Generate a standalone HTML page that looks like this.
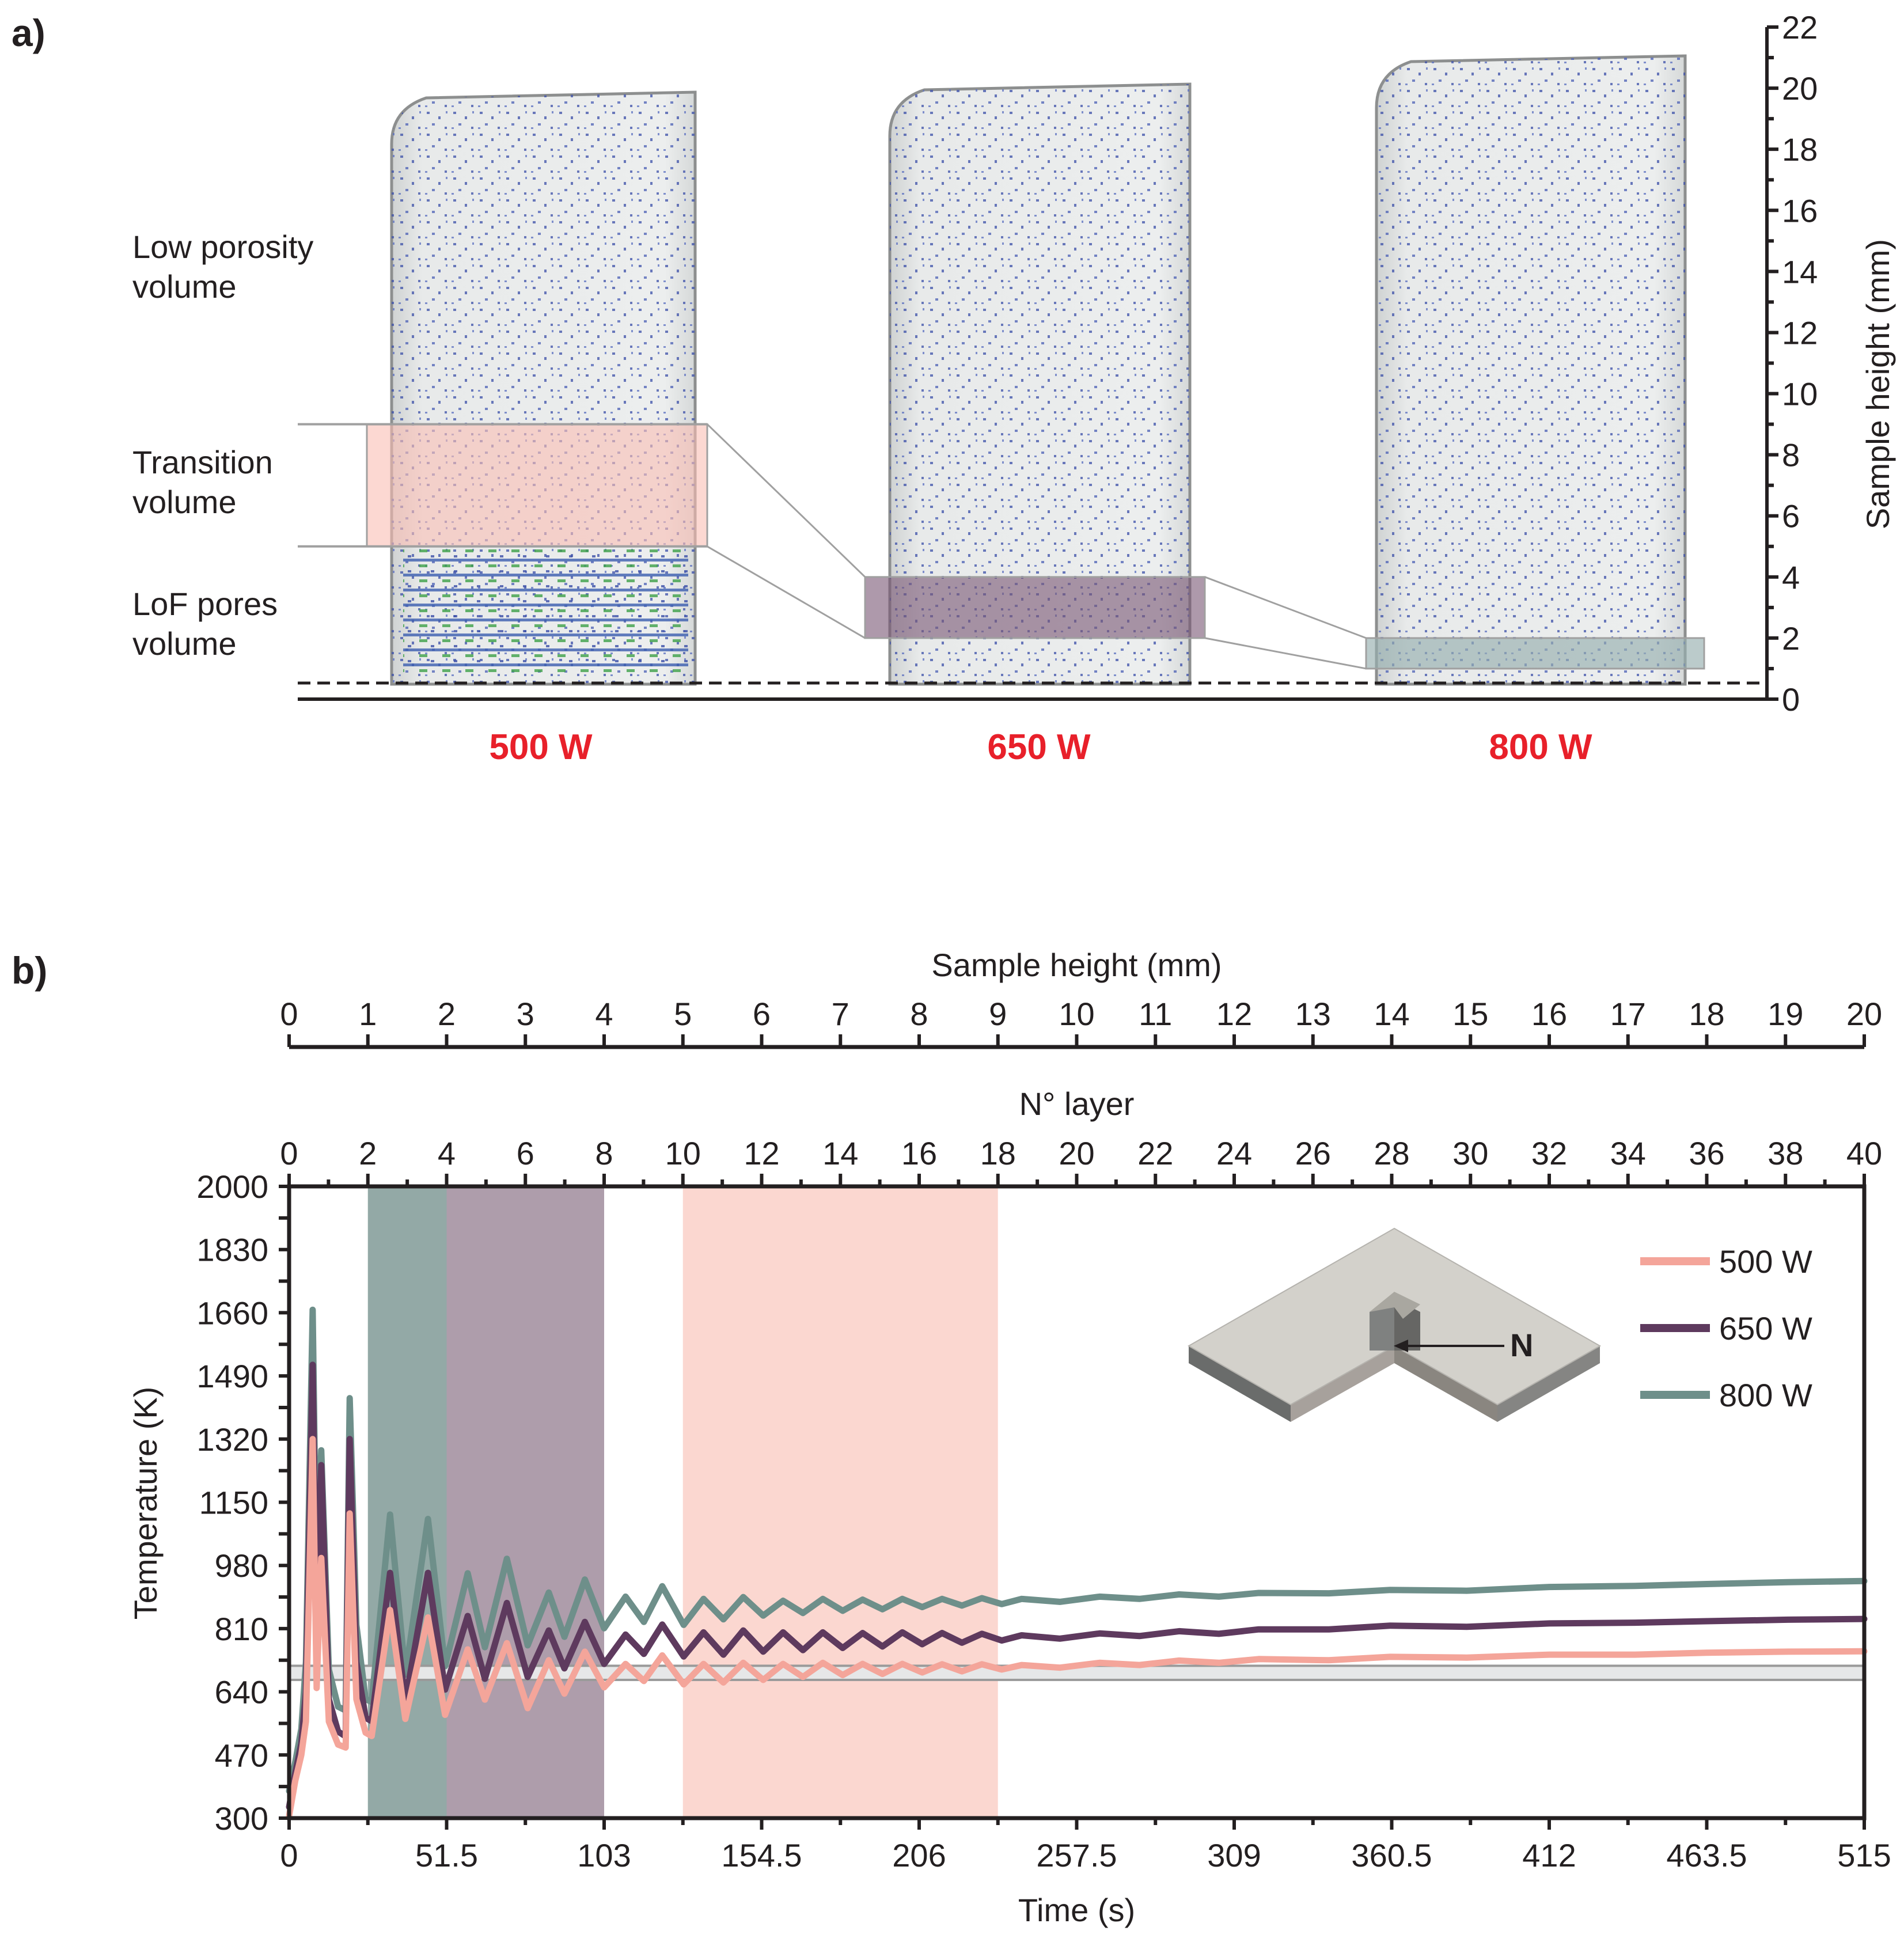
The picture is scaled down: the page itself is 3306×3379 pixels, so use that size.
<!DOCTYPE html>
<html><head><meta charset="utf-8"><style>
html,body{margin:0;padding:0;background:#fff}
svg{display:block}
text{font-family:"Liberation Sans Narrow","Liberation Sans",sans-serif;fill:#231f20}
</style></head><body>
<svg id="fig" width="3306" height="3379" viewBox="0 0 3306 3379" xmlns="http://www.w3.org/2000/svg">
<defs>
<pattern id="pores" width="46" height="38" patternUnits="userSpaceOnUse">
<rect x="5" y="4" width="5" height="4" fill="#3b4fa8"/><rect x="25" y="12" width="4" height="5" fill="#3b4fa8"/><rect x="14" y="24" width="5" height="4" fill="#4a5fb5"/><rect x="36" y="30" width="4" height="4" fill="#3b4fa8"/><rect x="38" y="3" width="3" height="4" fill="#5a6fc0"/><rect x="2" y="31" width="4" height="3" fill="#5a6fc0"/>
</pattern>
<pattern id="lof" width="40" height="26" patternUnits="userSpaceOnUse">
<rect x="0" y="8" width="40" height="5" fill="#3d5fb0"/><rect x="8" y="18" width="14" height="5" fill="#3fa14a"/><rect x="28" y="2" width="6" height="4" fill="#3b4fa8"/>
</pattern>
<linearGradient id="body" x1="0" x2="1"><stop offset="0" stop-color="#cfd2d2"/><stop offset="0.1" stop-color="#e8eaea"/><stop offset="0.9" stop-color="#eceeee"/><stop offset="1" stop-color="#d5d8d8"/></linearGradient>
</defs>

<!-- PART A -->
<text x="20" y="80" font-size="66" font-weight="bold" font-family="Liberation Sans">a)</text>
<g id="samples"></g>
<g id="aaxis"></g>
<g font-size="56">
<text x="230" y="448">Low porosity</text>
<text x="230" y="517">volume</text>
<text x="230" y="822">Transition</text>
<text x="230" y="891">volume</text>
<text x="230" y="1068">LoF pores</text>
<text x="230" y="1137">volume</text>
</g>
<g font-size="62" font-weight="bold" text-anchor="middle">
<text x="939" y="1318" style="fill:#e8202a">500 W</text>
<text x="1804" y="1318" style="fill:#e8202a">650 W</text>
<text x="2675" y="1318" style="fill:#e8202a">800 W</text>
</g>

<!-- PART B -->
<text x="20" y="1708" font-size="66" font-weight="bold" font-family="Liberation Sans">b)</text>
<g id="plot"></g>
</svg>
<script>
// ---------- chart data ----------
const times = [0,2,4,5.5,7.7,9,10.5,13,16,18.5,19.8,22,25,27,33,38,45.4,51,58.4,64,71.2,78,84.9,90,96.7,103,110,116,122,129,135.5,142,148.5,155,161.5,168,174.5,181,187.5,194,200.5,207,213.5,220,226.5,233,239.5,252,265,278,291,304,317,340,360,385,412,440,463.5,490,515];
const temp500 = [306,400,470,560,1320,650,1000,560,498,490,1120,620,530,521,860,567,840,578,754,619,771,596,725,635,748,652,715,669,738,660,715,665,718,672,715,680,718,685,715,688,715,692,714,695,714,700,712,705,718,712,724,718,728,725,734,732,740,740,745,748,749];
const temp650 = [330,420,500,640,1520,780,1250,620,533,520,1320,720,570,561,960,613,960,646,844,675,879,680,805,703,828,715,794,742,821,735,800,740,805,748,800,752,800,758,798,762,800,768,798,772,796,778,792,783,797,790,803,796,808,808,818,815,824,826,830,834,836];
const temp800 = [373,450,540,720,1668,900,1290,700,600,590,1430,820,620,613,1117,686,1105,709,959,760,998,765,907,788,942,811,896,828,924,820,890,835,895,845,885,852,890,858,888,862,890,868,890,872,892,876,890,882,896,890,902,896,906,905,914,912,922,925,930,935,938];
const tempTicks = [300,470,640,810,980,1150,1320,1490,1660,1830,2000];
const timeTicks = ["0","51.5","103","154.5","206","257.5","309","360.5","412","463.5","515"];
const layerTicks = [0,2,4,6,8,10,12,14,16,18,20,22,24,26,28,30,32,34,36,38,40];
const heightTicks = [0,1,2,3,4,5,6,7,8,9,10,11,12,13,14,15,16,17,18,19,20];
const bandLayers = [[2,4,"#93a9a6","band-800w"],[4,8,"#ae9dab","band-650w"],[10,18,"#fbd7d0","band-500w"]];
const grayBand = [672,710];
const aHeightTicks = [0,2,4,6,8,10,12,14,16,18,20,22];
const aBoxes = [[5,9],[2,4],[1,2]];

const NS="http://www.w3.org/2000/svg";
function mk(tag,attrs,parent){const e=document.createElementNS(NS,tag);for(const k in attrs)e.setAttribute(k,attrs[k]);parent.appendChild(e);return e;}

// ---------- part B ----------
const L=502,R=3237,T=2060,B=3157;
const xT=t=>L+(t/515)*(R-L);
const xL=n=>L+(n/40)*(R-L);
const xH=h=>L+(h/20)*(R-L);
const yK=v=>B-(v-300)/1700*(B-T);
const plot=document.getElementById('plot');

bandLayers.forEach(b=>{
  const r=mk('rect',{x:xL(b[0]),y:T,width:xL(b[1])-xL(b[0]),height:B-T,fill:b[2]},plot);
  
  
});
const gb=mk('rect',{x:L,y:yK(grayBand[1]),width:R-L,height:yK(grayBand[0])-yK(grayBand[1]),fill:"#e6e7e8",stroke:"#9a9a9a","stroke-width":4},plot);



// inset
const ins=mk('g',{},plot);


const th=30;
mk('polygon',{points:`2064,2337 2241,2439 2241,${2439+th} 2064,${2337+th}`,fill:"#6a6c6b"},ins);
mk('polygon',{points:`2241,2439 2421,2337 2421,${2337+th} 2241,${2439+th}`,fill:"#a7a19c"},ins);
mk('polygon',{points:`2421,2337 2600,2439 2600,${2439+th} 2421,${2337+th}`,fill:"#8a8680"},ins);
mk('polygon',{points:`2600,2439 2778,2337 2778,${2337+th} 2600,${2439+th}`,fill:"#858583"},ins);
mk('polygon',{points:"2421,2133 2778,2337 2600,2439 2421,2337 2241,2439 2064,2337",fill:"#d3d1cb",stroke:"#b5b3ae","stroke-width":2},ins);
mk('polygon',{points:"2378,2278 2421,2255 2421,2345 2378,2345",fill:"#7f8180"},ins);
mk('polygon',{points:"2421,2255 2466,2278 2466,2345 2421,2345",fill:"#666664"},ins);
mk('polygon',{points:"2378,2278 2421,2243 2466,2265 2436,2290 2421,2270",fill:"#a9a7a0"},ins);
mk('line',{x1:2612,y1:2337,x2:2432,y2:2337,stroke:"#231f20","stroke-width":4},ins);
mk('polygon',{points:"2420,2337 2445,2326 2445,2348",fill:"#231f20"},ins);
const nt=mk('text',{x:2622,y:2355,"font-size":56,"font-weight":"bold"},ins);nt.textContent="N";



// series
function series(vals,color,name){
  const d=vals.map((v,i)=>(i?'L':'M')+xT(times[i]).toFixed(1)+','+yK(v).toFixed(1)).join(' ');
  const p=mk('path',{d:d,fill:"none",stroke:color,"stroke-width":11,"stroke-linejoin":"round","stroke-linecap":"round"},plot);
  
  
}
series(temp800,"#6e8f8a","line-800w");
series(temp650,"#5e3a5e","line-650w");
series(temp500,"#f4a59a","line-500w");

// frame
const fr=mk('rect',{x:L,y:T,width:R-L,height:B-T,fill:"none",stroke:"#231f20","stroke-width":7},plot);



// left axis
tempTicks.forEach(v=>{
  mk('line',{x1:L-18,y1:yK(v),x2:L,y2:yK(v),stroke:"#231f20","stroke-width":6},plot);
  const t=mk('text',{x:L-36,y:yK(v)+20,"font-size":56,"text-anchor":"end"},plot);t.textContent=v;
  
  
});
for(let v=385;v<2000;v+=170){mk('line',{x1:L-18,y1:yK(v),x2:L,y2:yK(v),stroke:"#231f20","stroke-width":6},plot);}
const yt=mk('text',{x:0,y:0,"font-size":56,"text-anchor":"middle",transform:`translate(272,2610) rotate(-90)`,"font-family":"Liberation Sans"},plot);yt.textContent="Temperature (K)";



// bottom axis
timeTicks.forEach((s,i)=>{
  const x=xT(i*51.5);
  mk('line',{x1:x,y1:B,x2:x,y2:B+20,stroke:"#231f20","stroke-width":6},plot);
  const t=mk('text',{x:x,y:B+84,"font-size":56,"text-anchor":"middle"},plot);t.textContent=s;
  
  
});
for(let i=0;i<10;i++){const x=xT(i*51.5+25.75);mk('line',{x1:x,y1:B,x2:x,y2:B+12,stroke:"#231f20","stroke-width":6},plot);}
const xt=mk('text',{x:(L+R)/2,y:3336,"font-size":56,"text-anchor":"middle"},plot);xt.textContent="Time (s)";



// top layer axis
layerTicks.forEach(n=>{
  const x=xL(n);
  mk('line',{x1:x,y1:T-22,x2:x,y2:T,stroke:"#231f20","stroke-width":6},plot);
  const t=mk('text',{x:x,y:2022,"font-size":56,"text-anchor":"middle"},plot);t.textContent=n;
  
  
});
for(let n=1;n<40;n+=2){const x=xL(n);mk('line',{x1:x,y1:T-12,x2:x,y2:T,stroke:"#231f20","stroke-width":6},plot);}
const lt=mk('text',{x:(L+R)/2,y:1936,"font-size":56,"text-anchor":"middle"},plot);lt.textContent="N° layer";



// sample height axis
mk('line',{x1:L,y1:1818,x2:R,y2:1818,stroke:"#231f20","stroke-width":7},plot);
heightTicks.forEach(h=>{
  const x=xH(h);
  mk('line',{x1:x,y1:1796,x2:x,y2:1818,stroke:"#231f20","stroke-width":6},plot);
  const t=mk('text',{x:x,y:1780,"font-size":56,"text-anchor":"middle"},plot);t.textContent=h;
  
  
});
const ht=mk('text',{x:(L+R)/2,y:1695,"font-size":56,"text-anchor":"middle"},plot);ht.textContent="Sample height (mm)";



// legend
[["500 W","#f4a59a",2190],["650 W","#5e3a5e",2306],["800 W","#6e8f8a",2422]].forEach(l=>{
  const g=mk('g',{},plot);
  
  
  mk('rect',{x:2848,y:l[2]-7,width:121,height:14,fill:l[1]},g);
  const t=mk('text',{x:2985,y:l[2]+20,"font-size":56},g);t.textContent=l[0];
});

// ---------- part A ----------
const aT=47,aB=1214,aX=3068;
const yM=m=>aB-(m/22)*(aB-aT);
const sg=document.getElementById('samples');
const samples=[[680,1207,160,"sample-500w"],[1545,2066,146,"sample-650w"],[2390,2926,97,"sample-800w"]];
samples.forEach(s=>{
  const g=mk('g',{},sg);
  
  
  const r=60;
  const d=`M${s[0]},1188 L${s[0]},${s[2]+r+30} Q${s[0]},${s[2]+30} ${s[0]+r},${s[2]+10} L${s[1]},${s[2]} L${s[1]},1188 Z`;
  mk('path',{d:d,fill:"url(#body)",stroke:"#8d8f8f","stroke-width":5},g);
  mk('path',{d:d,fill:"url(#pores)",opacity:0.75},g);
});
mk('rect',{x:700,y:950,width:495,height:222,fill:"url(#lof)",opacity:0.8},sg);

const bx=[[637,1228,"rgba(250,190,180,0.6)"],[1502,2092,"rgba(120,85,115,0.6)"],[2372,2959,"rgba(150,175,175,0.65)"]];
aBoxes.forEach((b,i)=>{
  const r=mk('rect',{x:bx[i][0],y:yM(b[1]),width:bx[i][1]-bx[i][0],height:yM(b[0])-yM(b[1]),fill:bx[i][2],stroke:"#a0a0a0","stroke-width":3},sg);
  
  
});
mk('line',{x1:517,y1:yM(9),x2:1228,y2:yM(9),stroke:"#a0a0a0","stroke-width":4},sg);
mk('line',{x1:517,y1:yM(5),x2:1228,y2:yM(5),stroke:"#a0a0a0","stroke-width":4},sg);
mk('line',{x1:1228,y1:yM(9),x2:1502,y2:yM(4),stroke:"#a0a0a0","stroke-width":3},sg);
mk('line',{x1:1228,y1:yM(5),x2:1502,y2:yM(2),stroke:"#a0a0a0","stroke-width":3},sg);
mk('line',{x1:2092,y1:yM(4),x2:2372,y2:yM(2),stroke:"#a0a0a0","stroke-width":3},sg);
mk('line',{x1:2092,y1:yM(2),x2:2372,y2:yM(1),stroke:"#a0a0a0","stroke-width":3},sg);

const ax=document.getElementById('aaxis');
mk('line',{x1:517,y1:1186,x2:aX,y2:1186,stroke:"#231f20","stroke-width":5,"stroke-dasharray":"22 12"},ax);
mk('line',{x1:517,y1:aB,x2:aX,y2:aB,stroke:"#231f20","stroke-width":6},ax);
mk('line',{x1:aX,y1:aT,x2:aX,y2:aB,stroke:"#231f20","stroke-width":6},ax);
aHeightTicks.forEach(m=>{
  mk('line',{x1:aX,y1:yM(m),x2:aX+20,y2:yM(m),stroke:"#231f20","stroke-width":6},ax);
  const t=mk('text',{x:3094,y:yM(m)+20,"font-size":56},ax);t.textContent=m;
  
  
});
for(let m=1;m<22;m+=2){mk('line',{x1:aX,y1:yM(m),x2:aX+12,y2:yM(m),stroke:"#231f20","stroke-width":6},ax);}
const at=mk('text',{x:0,y:0,"font-size":56,"text-anchor":"middle","font-family":"Liberation Sans",transform:"translate(3280,667) rotate(-90)"},ax);at.textContent="Sample height (mm)";


</script>
</body></html>
